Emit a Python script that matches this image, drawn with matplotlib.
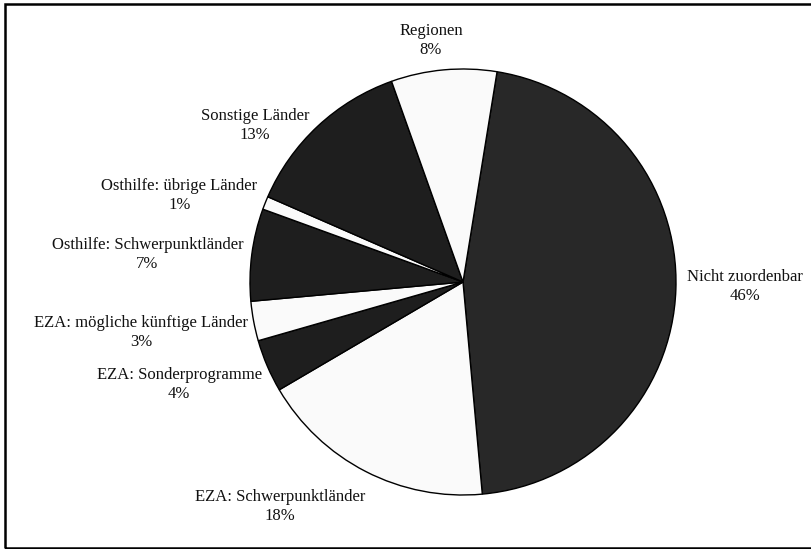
import matplotlib
matplotlib.use('Agg')
import matplotlib.pyplot as plt
from matplotlib.patches import Rectangle

# shares in percent, clockwise from the top
labels = ['Nicht zuordenbar', 'EZA: Schwerpunktländer', 'EZA: Sonderprogramme',
          'EZA: mögliche künftige Länder', 'Osthilfe: Schwerpunktländer',
          'Osthilfe: übrige Länder', 'Sonstige Länder', 'Regionen']
shares = [46, 18, 4, 3, 7, 1, 13, 8]
colors = ['#282828', '#fafafa', '#1e1e1e', '#fafafa', '#1e1e1e',
          '#fafafa', '#1e1e1e', '#fafafa']

# label centres, in pie radii from the centre
label_xy = [(1.324, -0.023), (-0.859, -1.056), (-1.333, -0.479), (-1.512, -0.235),
            (-1.481, 0.127), (-1.331, 0.408), (-0.977, 0.737), (-0.150, 1.136)]

plt.rcParams['font.family'] = ['Liberation Serif', 'DejaVu Serif']

fig = plt.figure(figsize=(8.12, 5.49), dpi=100)
ax = fig.add_axes([0, 0, 1, 1])

ax.pie(shares, colors=colors, startangle=80.8, counterclock=False,
       wedgeprops=dict(edgecolor='black', linewidth=1.0))

for lab, val, (x, y) in zip(labels, shares, label_xy):
    ax.text(x, y, f'{lab}\n{val}%', ha='center', va='center',
            multialignment='center', fontsize=12, linespacing=1.25,
            color='#111111')

# pixel layout: centre (463, 282), radius 213
r = 213
ax.set_xlim(-463 / r, (812 - 463) / r)
ax.set_ylim((282 - 549) / r, 282 / r)
ax.set_aspect('auto')
ax.axis('off')

fig.patches.append(Rectangle((5 / 812, 1 / 549), 1.1, 544 / 549,
                             transform=fig.transFigure, fill=False,
                             edgecolor='black', linewidth=1.8))

fig.savefig('out.png', dpi=100)
